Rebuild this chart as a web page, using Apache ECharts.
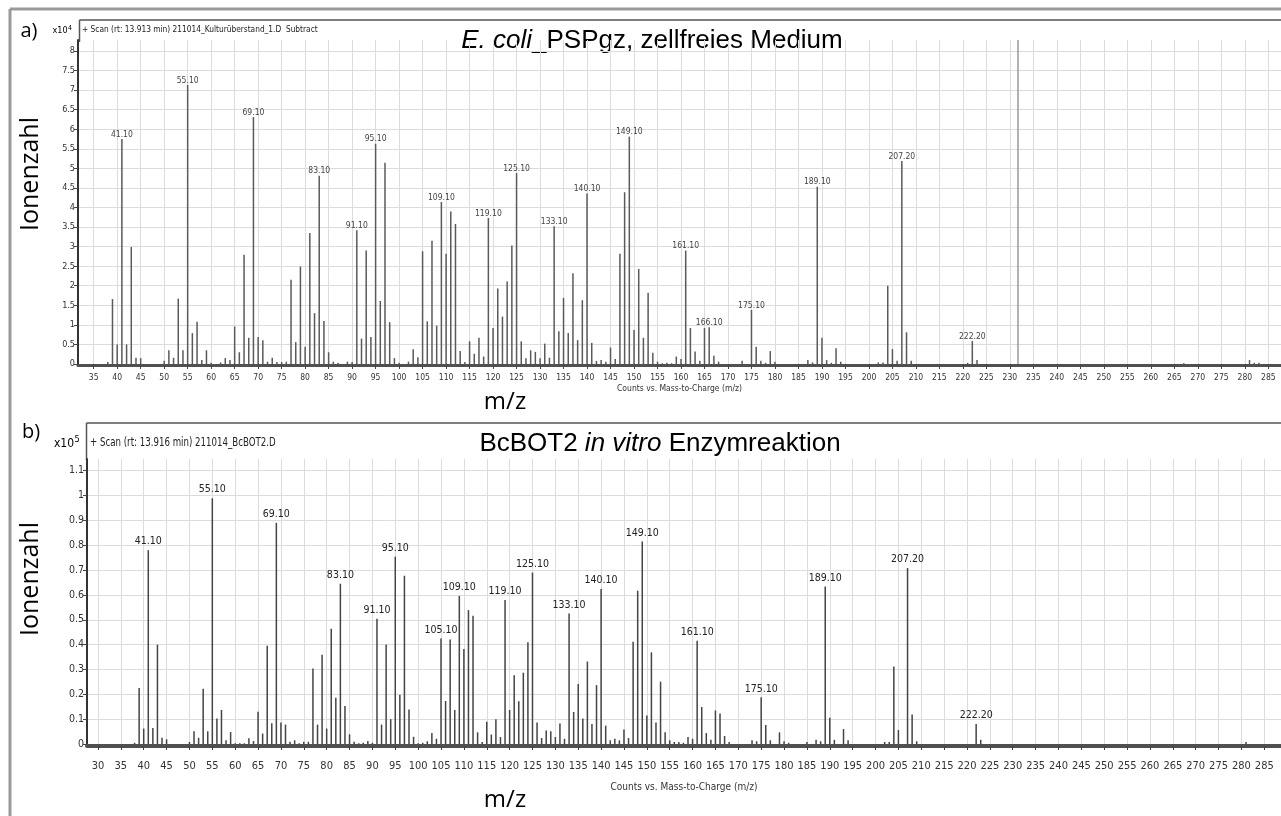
<!DOCTYPE html>
<html>
<head>
<meta charset="utf-8">
<script src="https://cdn.jsdelivr.net/npm/echarts@6/dist/echarts.min.js"></script>
<style>
  html, body { margin: 0; padding: 0; background: #fff; }
  #chart { width: 1281px; height: 816px; }
</style>
</head>
<body>
<div id="chart"></div>
<script>
// ---- a) E. coli_PSPgz, zellfreies Medium (x10^4) ----
const mzA = [
  38, 39, 40, 41, 42, 43, 44, 45,
  50, 51, 52, 53, 54, 55, 56, 57, 58, 59, 60,
  62, 63, 64, 65, 66, 67, 68, 69, 70, 71, 72, 73, 74, 75, 76, 77, 78, 79, 80, 81, 82, 83, 84, 85, 86, 87,
  89, 90, 91, 92, 93, 94, 95, 96, 97, 98, 99, 100,
  102, 103, 104, 105, 106, 107, 108, 109, 110, 111, 112, 113, 114, 115, 116, 117, 118, 119, 120,
  121, 122, 123, 124, 125, 126, 127, 128, 129, 130, 131, 132, 133, 134, 135, 136, 137, 138, 139, 140,
  141, 142, 143, 144, 145, 146, 147, 148, 149, 150, 151, 152, 153, 154, 155, 156, 157, 158, 159, 160,
  161, 162, 163, 164, 165, 166, 167, 168,
  173, 175, 176, 177, 178, 179, 180,
  187, 188, 189, 190, 191, 192, 193, 194,
  202, 203, 204, 205, 206, 207, 208, 209,
  221, 222, 223, 267, 281, 282, 283
];
const intA = [
  0.05, 1.66, 0.50, 5.75, 0.50, 2.99, 0.16, 0.15,
  0.08, 0.35, 0.16, 1.67, 0.35, 7.13, 0.79, 1.08, 0.10, 0.35, 0.03,
  0.04, 0.15, 0.10, 0.96, 0.30, 2.79, 0.67, 6.31, 0.69, 0.61, 0.06, 0.16, 0.05, 0.05, 0.06, 2.15, 0.56, 2.49, 0.44, 3.35, 1.30, 4.81, 1.10, 0.30, 0.06, 0.03,
  0.06, 0.05, 3.42, 0.65, 2.90, 0.69, 5.63, 1.61, 5.14, 1.07, 0.15, 0.03,
  0.06, 0.38, 0.17, 2.88, 1.09, 3.15, 0.98, 4.14, 2.82, 3.90, 3.58, 0.33, 0.05, 0.58, 0.26, 0.67, 0.19, 3.73, 0.92,
  1.93, 1.21, 2.11, 3.03, 4.88, 0.58, 0.15, 0.35, 0.31, 0.15, 0.52, 0.16, 3.52, 0.84, 1.69, 0.79, 2.32, 0.61, 1.63, 4.36,
  0.54, 0.08, 0.10, 0.06, 0.42, 0.13, 2.82, 4.39, 5.81, 0.87, 2.43, 0.67, 1.82, 0.29, 0.06, 0.02, 0.03, 0.02, 0.19, 0.13,
  2.90, 0.92, 0.32, 0.08, 0.92, 0.94, 0.21, 0.06,
  0.08, 1.38, 0.44, 0.08, 0.03, 0.33, 0.06,
  0.10, 0.04, 4.53, 0.67, 0.10, 0.03, 0.40, 0.06,
  0.04, 0.04, 2.00, 0.38, 0.08, 5.19, 0.81, 0.08,
  0.03, 0.59, 0.10, 0.02, 0.10, 0.03, 0.03
];
const labelMzA = [41, 55, 69, 83, 91, 95, 109, 119, 125, 133, 140, 149, 161, 166, 175, 189, 207, 222];
const labelTxtA = ['41.10', '55.10', '69.10', '83.10', '91.10', '95.10', '109.10', '119.10', '125.10', '133.10',
  '140.10', '149.10', '161.10', '166.10', '175.10', '189.10', '207.20', '222.20'];
const cursorMzA = 231.7;   // graue Linie

// ---- b) BcBOT2 in vitro Enzymreaktion (x10^5) ----
const mzB = [
  38, 39, 40, 41, 42, 43, 44, 45,
  50, 51, 52, 53, 54, 55, 56, 57, 58, 59, 60, 61, 62, 63, 64, 65, 66, 67, 68, 69, 70,
  71, 72, 73, 74, 75, 76, 77, 78, 79, 80, 81, 82, 83, 84, 85, 86, 87, 88, 89, 90,
  91, 92, 93, 94, 95, 96, 97, 98, 99, 100, 101, 102, 103, 104, 105, 106, 107, 108, 109, 110,
  111, 112, 113, 114, 115, 116, 117, 118, 119, 120, 121, 122, 123, 124, 125, 126, 127, 128, 129, 130,
  131, 132, 133, 134, 135, 136, 137, 138, 139, 140, 141, 142, 143, 144, 145, 146, 147, 148, 149, 150,
  151, 152, 153, 154, 155, 156, 157, 158, 159, 160, 161, 162, 163, 164, 165, 166, 167, 168,
  173, 174, 175, 176, 177, 179, 180, 181, 185, 187, 188, 189, 190, 191, 193, 194,
  202, 203, 204, 205, 207, 208, 209, 222, 223, 281
];
const intB = [
  0.005, 0.225, 0.062, 0.780, 0.064, 0.400, 0.025, 0.019,
  0.008, 0.051, 0.025, 0.222, 0.051, 0.989, 0.103, 0.137, 0.015, 0.048, 0.003, 0.003, 0.003, 0.023, 0.012, 0.130, 0.042, 0.395, 0.084, 0.890, 0.087,
  0.078, 0.009, 0.015, 0.003, 0.009, 0.009, 0.304, 0.078, 0.359, 0.062, 0.464, 0.186, 0.645, 0.153, 0.039, 0.009, 0.003, 0.005, 0.012, 0.005,
  0.504, 0.078, 0.400, 0.100, 0.754, 0.198, 0.677, 0.139, 0.029, 0.003, 0.005, 0.011, 0.044, 0.021, 0.425, 0.173, 0.421, 0.137, 0.596, 0.382,
  0.539, 0.516, 0.047, 0.008, 0.090, 0.038, 0.100, 0.028, 0.580, 0.137, 0.277, 0.172, 0.287, 0.409, 0.690, 0.087, 0.024, 0.054, 0.051, 0.028,
  0.083, 0.021, 0.525, 0.129, 0.241, 0.103, 0.332, 0.080, 0.237, 0.624, 0.074, 0.015, 0.021, 0.015, 0.058, 0.024, 0.412, 0.617, 0.815, 0.115,
  0.369, 0.087, 0.251, 0.047, 0.015, 0.008, 0.008, 0.005, 0.028, 0.021, 0.416, 0.149, 0.044, 0.017, 0.135, 0.123, 0.032, 0.008,
  0.015, 0.011, 0.188, 0.076, 0.015, 0.047, 0.011, 0.005, 0.008, 0.017, 0.011, 0.634, 0.106, 0.017, 0.060, 0.015,
  0.008, 0.008, 0.312, 0.056, 0.708, 0.119, 0.011, 0.080, 0.017, 0.008
];
const labelMzB = [41, 55, 69, 83, 91, 95, 105, 109, 119, 125, 133, 140, 149, 161, 175, 189, 207, 222];
const labelTxtB = ['41.10', '55.10', '69.10', '83.10', '91.10', '95.10', '105.10', '109.10', '119.10', '125.10',
  '133.10', '140.10', '149.10', '161.10', '175.10', '189.10', '207.20', '222.20'];

// Achsenbeschriftung
const xTicksA = [35, 40, 45, 50, 55, 60, 65, 70, 75, 80, 85, 90, 95, 100, 105, 110, 115, 120, 125, 130, 135, 140, 145,
  150, 155, 160, 165, 170, 175, 180, 185, 190, 195, 200, 205, 210, 215, 220, 225, 230, 235, 240, 245, 250, 255,
  260, 265, 270, 275, 280, 285];
const xTicksB = [30, 35, 40, 45, 50, 55, 60, 65, 70, 75, 80, 85, 90, 95, 100, 105, 110, 115, 120, 125, 130, 135, 140, 145,
  150, 155, 160, 165, 170, 175, 180, 185, 190, 195, 200, 205, 210, 215, 220, 225, 230, 235, 240, 245, 250, 255,
  260, 265, 270, 275, 280, 285];
const yTicksA = [0, 0.5, 1, 1.5, 2, 2.5, 3, 3.5, 4, 4.5, 5, 5.5, 6, 6.5, 7, 7.5, 8];
const yTicksB = [0, 0.1, 0.2, 0.3, 0.4, 0.5, 0.6, 0.7, 0.8, 0.9, 1, 1.1];

const NARROW = '"Liberation Sans Narrow", "Arial Narrow", "DejaVu Sans Condensed", sans-serif';
const SANS = '"Open Sans", "Noto Sans", sans-serif';
const ARIAL = '"Liberation Sans", Arial, sans-serif';
const GRID_COLOR = '#dcdcdc';

const chart = echarts.init(document.getElementById('chart'));

function peakData(mz, vals, labMz, labTxt, fontSize) {
  return mz.map((m, i) => {
    const k = labMz.indexOf(m);
    if (k < 0) return [m, vals[i]];
    return {
      value: [m, vals[i]],
      label: { show: true, formatter: labTxt[k], fontSize: fontSize }
    };
  });
}

function xAxisOf(idx, min, max, ticks, fs, margin, nameFs, nameGap, offset) {
  return {
    gridIndex: idx, type: 'value', min: min, max: max, offset: offset,
    axisLine: { show: true, onZero: false, lineStyle: { color: '#505050', width: idx === 0 ? 3 : 4 } },
    axisTick: { show: true, customValues: ticks, length: 4, lineStyle: { color: '#444' } },
    axisLabel: { customValues: ticks, fontSize: fs, color: '#333', margin: margin, fontFamily: NARROW },
    splitLine: { show: true, lineStyle: { color: GRID_COLOR, width: 1 } },
    name: 'Counts vs. Mass-to-Charge (m/z)', nameLocation: 'middle', nameGap: nameGap,
    nameTextStyle: { fontSize: nameFs, color: '#333', fontFamily: NARROW }
  };
}

function yAxisOf(idx, max, ticks, fs) {
  return {
    gridIndex: idx, type: 'value', min: 0, max: max,
    axisLine: { show: true, lineStyle: { color: '#333', width: 2 } },
    axisTick: { show: true, customValues: ticks, length: 4, lineStyle: { color: '#444' } },
    axisLabel: { customValues: ticks, fontSize: fs, color: '#333', margin: 3, fontFamily: NARROW },
    splitLine: { show: true, lineStyle: { color: GRID_COLOR, width: 1 } }
  };
}

function txt(x, y, text, font, extra) {
  return Object.assign({
    type: 'text', x: x, y: y, silent: true,
    style: { text: text, font: font, fill: '#000', align: 'center', verticalAlign: 'middle' }
  }, extra || {});
}

const option = {
  animation: false,
  backgroundColor: '#fff',
  grid: [
    { left: 78, right: 0, top: 40, bottom: 452, outerBoundsMode: 'none' },
    { left: 87, right: 0, top: 459, bottom: 72, outerBoundsMode: 'none' }
  ],
  xAxis: [
    xAxisOf(0, 31.66, 287.7, xTicksA, 8.5, 8, 8.5, 19, 1),
    xAxisOf(1, 27.6, 288.65, xTicksB, 11, 15, 10, 36, 2)
  ],
  yAxis: [
    yAxisOf(0, 8.28, yTicksA, 9),
    yAxisOf(1, 1.147, yTicksB, 10.5)
  ],
  series: [
    {
      type: 'bar', xAxisIndex: 0, yAxisIndex: 0, barWidth: 1.5,
      itemStyle: { color: '#5a5a5a' },
      label: { show: false, position: 'top', distance: 0, color: '#444', fontFamily: NARROW },
      data: peakData(mzA, intA, labelMzA, labelTxtA, 8.5),
      markLine: {
        silent: true, symbol: 'none', animation: false,
        label: { show: false },
        lineStyle: { color: '#9a9a9a', width: 1.5, type: 'solid' },
        data: [{ xAxis: cursorMzA }]
      }
    },
    {
      type: 'bar', xAxisIndex: 1, yAxisIndex: 1, barWidth: 1.5,
      itemStyle: { color: '#444' },
      label: { show: false, position: 'top', distance: 3, color: '#222', fontFamily: NARROW },
      data: peakData(mzB, intB, labelMzB, labelTxtB, 10.5)
    }
  ],
  graphic: [
    // Rahmen
    { type: 'line', silent: true, shape: { x1: 10, y1: 9, x2: 1281, y2: 9 }, style: { stroke: '#9a9a9a', lineWidth: 3 } },
    { type: 'line', silent: true, shape: { x1: 10, y1: 9, x2: 10, y2: 816 }, style: { stroke: '#9a9a9a', lineWidth: 3 } },
    { type: 'line', silent: true, shape: { x1: 79.5, y1: 20, x2: 1281, y2: 20 }, style: { stroke: '#555', lineWidth: 1.5 } },
    { type: 'line', silent: true, shape: { x1: 79.5, y1: 20, x2: 79.5, y2: 42 }, style: { stroke: '#555', lineWidth: 1.5 } },
    { type: 'line', silent: true, shape: { x1: 86.5, y1: 423, x2: 1281, y2: 423 }, style: { stroke: '#555', lineWidth: 1.5 } },
    { type: 'line', silent: true, shape: { x1: 86.5, y1: 423, x2: 86.5, y2: 460 }, style: { stroke: '#555', lineWidth: 1.5 } },

    // Panel a
    txt(29, 31, 'a)', '20px ' + SANS),
    txt(31, 174, 'Ionenzahl', '25px ' + SANS, { rotation: Math.PI / 2 }),
    txt(505, 402, 'm/z', '24px ' + SANS),
    txt(60, 31, 'x10', '9px ' + NARROW),
    txt(70, 28, '4', '7px ' + NARROW),
    {
      type: 'text', x: 82, y: 30, silent: true, scaleX: 0.92,
      style: { text: '+ Scan (rt: 13.913 min) 211014_Kulturüberstand_1.D  Subtract', font: '9px ' + NARROW, fill: '#222', align: 'left', verticalAlign: 'middle' }
    },
    {
      type: 'text', x: 652, y: 41, silent: true,
      style: {
        text: '{i|E. coli}_PSPgz, zellfreies Medium', font: '26px ' + ARIAL, fill: '#000',
        align: 'center', verticalAlign: 'middle',
        rich: { i: { fontStyle: 'italic', fontSize: 26, fontFamily: ARIAL } }
      }
    },

    // Panel b
    txt(31, 432, 'b)', '20px ' + SANS),
    txt(31, 579, 'Ionenzahl', '25px ' + SANS, { rotation: Math.PI / 2 }),
    txt(505, 800, 'm/z', '24px ' + SANS),
    txt(64, 444, 'x10', '12px ' + NARROW),
    txt(77, 440, '5', '9px ' + NARROW),
    {
      type: 'text', x: 90, y: 443, silent: true, scaleX: 0.8,
      style: { text: '+ Scan (rt: 13.916 min) 211014_BcBOT2.D', font: '12px ' + NARROW, fill: '#222', align: 'left', verticalAlign: 'middle' }
    },
    {
      type: 'text', x: 660, y: 444, silent: true,
      style: {
        text: 'BcBOT2 {i|in vitro} Enzymreaktion', font: '26px ' + ARIAL, fill: '#000',
        align: 'center', verticalAlign: 'middle',
        rich: { i: { fontStyle: 'italic', fontSize: 26, fontFamily: ARIAL } }
      }
    }
  ]
};

chart.setOption(option);
</script>
</body>
</html>
